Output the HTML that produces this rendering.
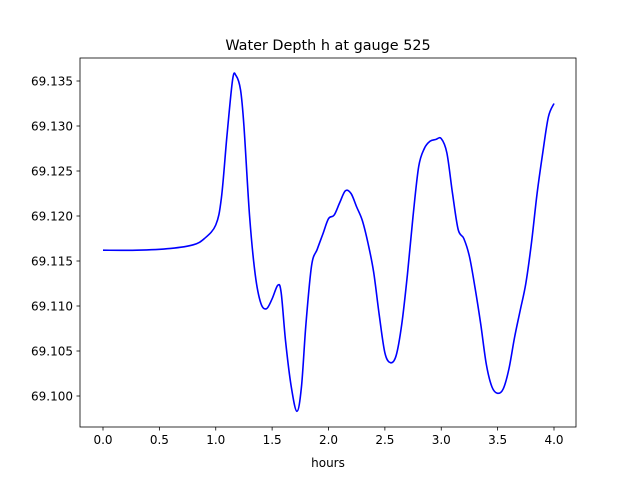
<!DOCTYPE html>
<html><head><meta charset="utf-8"><style>
body{margin:0;background:#fff;}
svg{font-family:"DejaVu Sans","Liberation Sans",sans-serif;}
</style></head><body>
<svg id="chart" width="640" height="480">
<rect width="640" height="480" fill="#fff"/>
<text x="328" y="50" font-size="14.4" text-anchor="middle">Water Depth h at gauge 525</text>
<g id="axes"></g>
<text x="328" y="467" font-size="12" text-anchor="middle">hours</text>
</svg>
<script>
const hours=[0,0.3,0.6,0.8,0.9,1.0,1.05,1.1,1.15,1.18,1.22,1.25,1.3,1.35,1.4,1.45,1.5,1.55,1.58,1.62,1.67,1.72,1.76,1.8,1.85,1.9,1.95,2.0,2.05,2.1,2.15,2.2,2.25,2.3,2.35,2.4,2.45,2.5,2.55,2.6,2.65,2.7,2.75,2.8,2.85,2.9,2.95,3.0,3.05,3.1,3.15,3.2,3.25,3.3,3.35,3.4,3.45,3.5,3.55,3.6,3.65,3.7,3.75,3.8,3.85,3.9,3.95,4.0];
const depth=[69.1162,69.1162,69.1164,69.1168,69.1175,69.1190,69.122,69.129,69.1352,69.1356,69.134,69.130,69.120,69.1135,69.1103,69.1097,69.1108,69.1123,69.1115,69.106,69.101,69.0983,69.101,69.108,69.1145,69.1163,69.118,69.1197,69.1201,69.1215,69.1228,69.1225,69.121,69.1195,69.117,69.1138,69.109,69.1048,69.1037,69.1045,69.108,69.1135,69.120,69.1255,69.1275,69.1283,69.1285,69.1286,69.127,69.1225,69.1185,69.1175,69.1155,69.112,69.108,69.1035,69.101,69.1003,69.1008,69.103,69.1065,69.1095,69.1125,69.117,69.1225,69.127,69.131,69.1325];
const xTicks=[0,0.5,1,1.5,2,2.5,3,3.5,4];
const xTickLabels=["0.0","0.5","1.0","1.5","2.0","2.5","3.0","3.5","4.0"];
const yTicks=[69.100,69.105,69.110,69.115,69.120,69.125,69.130,69.135];
const yTickLabels=["69.100","69.105","69.110","69.115","69.120","69.125","69.130","69.135"];
const L=80,R=576,T=58,B=427;
const xs=v=>103+v*112.75;
const ys=v=>396-(v-69.100)*9000;
const g=document.getElementById('axes');
const NS='http://www.w3.org/2000/svg';
function mk(tag,attrs){const e=document.createElementNS(NS,tag);for(const k in attrs)e.setAttribute(k,attrs[k]);g.appendChild(e);return e;}
xTicks.forEach((t,i)=>{
 const l=mk('line',{x1:xs(t),x2:xs(t),y1:B,y2:B+3.5,stroke:'#000','stroke-width':0.8});
 
 
 const tx=mk('text',{x:xs(t),y:B+17,'font-size':12,'text-anchor':'middle'});
 tx.textContent=xTickLabels[i];
 
 
});
yTicks.forEach((t,i)=>{
 const l=mk('line',{x1:L-3.5,x2:L,y1:ys(t),y2:ys(t),stroke:'#000','stroke-width':0.8});
 
 
 const tx=mk('text',{x:L-7,y:ys(t)+4.5,'font-size':12,'text-anchor':'end'});
 tx.textContent=yTickLabels[i];
 
 
});
// smooth path (Catmull-Rom)
const P=hours.map((h,i)=>[xs(h),ys(depth[i])]);
let d='M'+P[0][0]+','+P[0][1];
for(let i=0;i<P.length-1;i++){
 const p0=P[Math.max(0,i-1)],p1=P[i],p2=P[i+1],p3=P[Math.min(P.length-1,i+2)];
 const c1=[p1[0]+(p2[0]-p0[0])/6,p1[1]+(p2[1]-p0[1])/6];
 const c2=[p2[0]-(p3[0]-p1[0])/6,p2[1]-(p3[1]-p1[1])/6];
 d+=` C${c1[0]},${c1[1]} ${c2[0]},${c2[1]} ${p2[0]},${p2[1]}`;
}
const line=mk('path',{d:d,fill:'none',stroke:'#0000ff','stroke-width':1.6});


const fr=mk('rect',{x:L,y:T,width:R-L,height:B-T,fill:'none',stroke:'#000','stroke-width':0.8});


</script>
</body></html>
